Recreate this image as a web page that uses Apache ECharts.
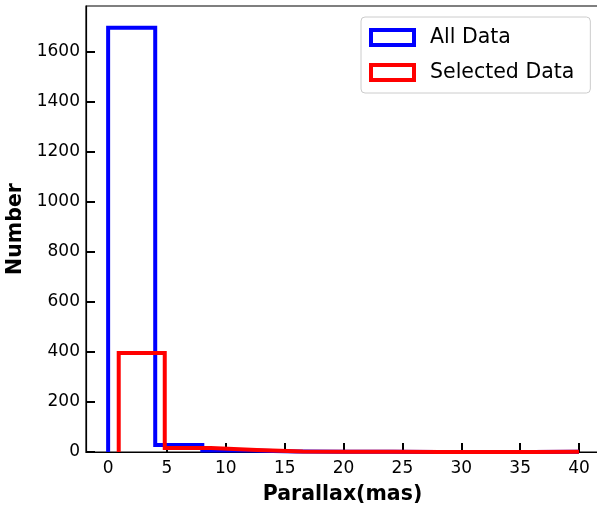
<!DOCTYPE html>
<html>
<head>
<meta charset="utf-8">
<script src="https://cdn.jsdelivr.net/npm/echarts@6/dist/echarts.min.js"></script>
<style>html,body{margin:0;padding:0;background:#fff}#c{width:597px;height:510px}</style>
</head>
<body>
<div id="c"></div>
<script>
// Histogram bin edges and counts
const allEdges = [0, 4, 8, 12, 16, 20, 24, 28, 32, 36, 40];
const allCounts = [1697, 28, 6, 2, 1, 1, 0, 0, 0, 1];
const selEdges = [0.9, 4.81, 8.72, 12.63, 16.54, 20.45, 24.36, 28.27, 32.18, 36.09, 40.0];
const selCounts = [396, 16, 8, 2, 1, 1, 0, 0, 0, 1];
const xTicks = [0, 5, 10, 15, 20, 25, 30, 35, 40];
const yTicks = [0, 200, 400, 600, 800, 1000, 1200, 1400, 1600];
const seriesNames = ['All Data', 'Selected Data'];

function stepPoints(edges, counts) {
  const pts = [[edges[0], 0]];
  for (let i = 0; i < counts.length; i++) {
    pts.push([edges[i], counts[i]]);
    pts.push([edges[i + 1], counts[i]]);
  }
  pts.push([edges[edges.length - 1], 0]);
  return pts;
}

const FONT = 'DejaVu Sans';
const chart = echarts.init(document.getElementById('c'), null, {renderer: 'canvas'});
chart.setOption({
  animation: false,
  backgroundColor: '#fff',
  grid: {left: 86, top: 6, right: -2, bottom: 58, outerBoundsMode: 'none', containLabel: false,
         show: true, borderColor: '#000', borderWidth: 1.2, backgroundColor: 'transparent'},
  legend: {
    orient: 'vertical', left: 361, top: 17,
    padding: [10, 16, 10, 8],
    itemWidth: 43, itemHeight: 15, itemGap: 14,
    borderColor: '#cccccc', borderWidth: 1, borderRadius: 4, backgroundColor: '#fff',
    textStyle: {fontFamily: FONT, fontSize: 20.5, color: '#000', padding: [0, 0, 0, 11]},
    data: [
      {name: seriesNames[0], icon: 'rect', itemStyle: {color: '#fff', borderColor: '#0000ff', borderWidth: 4}},
      {name: seriesNames[1], icon: 'rect', itemStyle: {color: '#fff', borderColor: '#ff0000', borderWidth: 4}}
    ]
  },
  xAxis: {
    type: 'value', min: -1.88, max: 41.7,
    name: 'Parallax(mas)', nameLocation: 'middle', nameGap: 32,
    nameTextStyle: {fontFamily: FONT, fontSize: 20.5, fontWeight: 'bold', color: '#000'},
    axisLine: {show: true, onZero: false, lineStyle: {color: '#000', width: 1.2}},
    axisTick: {show: true, inside: true, length: 9, customValues: xTicks, lineStyle: {color: '#000', width: 2}},
    axisLabel: {customValues: xTicks, margin: 8, fontFamily: FONT, fontSize: 17, color: '#000',
                formatter: v => String(v)},
    splitLine: {show: false}
  },
  yAxis: {
    type: 'value', min: 0, max: 1784,
    name: 'Number', nameLocation: 'middle', nameGap: 56,
    nameTextStyle: {fontFamily: FONT, fontSize: 20.5, fontWeight: 'bold', color: '#000'},
    axisLine: {show: true, onZero: false, lineStyle: {color: '#000', width: 1.2}},
    axisTick: {show: true, inside: true, length: 9, customValues: yTicks, lineStyle: {color: '#000', width: 2}},
    axisLabel: {customValues: yTicks, margin: 6, fontFamily: FONT, fontSize: 17, color: '#000',
                formatter: v => String(v)},
    splitLine: {show: false}
  },
  series: [
    {name: seriesNames[0], type: 'line', data: stepPoints(allEdges, allCounts), showSymbol: false, symbol: 'none',
     lineStyle: {color: '#0000ff', width: 4, join: 'miter'}, itemStyle: {color: '#0000ff'}, z: 2},
    {name: seriesNames[1], type: 'line', data: stepPoints(selEdges, selCounts), showSymbol: false, symbol: 'none',
     lineStyle: {color: '#ff0000', width: 4, join: 'miter'}, itemStyle: {color: '#ff0000'}, z: 3}
  ]
});
</script>
</body>
</html>
